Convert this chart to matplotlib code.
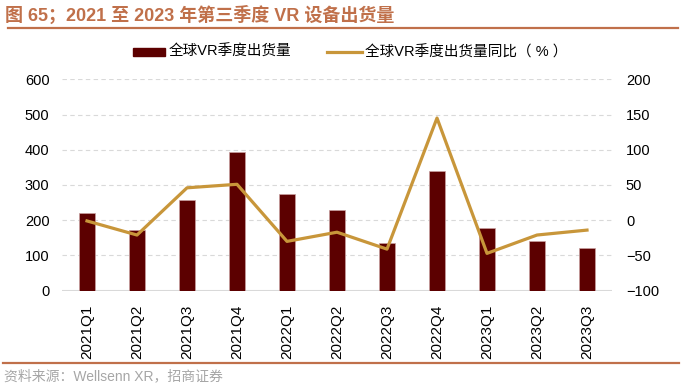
import matplotlib
matplotlib.use('Agg')
import matplotlib.pyplot as plt
from matplotlib.patches import Rectangle
from matplotlib.lines import Line2D

plt.rcParams['font.family'] = ['Liberation Sans', 'Noto Sans CJK SC', 'DejaVu Sans']

quarters = ['2021Q1', '2021Q2', '2021Q3', '2021Q4', '2022Q1', '2022Q2',
            '2022Q3', '2022Q4', '2023Q1', '2023Q2', '2023Q3']
shipments = [220, 173, 257, 393, 274, 228, 136, 339, 179, 141, 122]
yoy = [-1, -21, 46, 51, -30, -17, -41, 145, -47, -21, -14]

bar_col = '#5C0000'
line_col = '#C8963A'
title_col = '#C0704A'

W, H = 682, 386
fig = plt.figure(figsize=(W / 100, H / 100), dpi=100)
ax = fig.add_axes([62 / W, 1 - 290.7 / H, 550 / W, 211.4 / H])
ax2 = ax.twinx()

x = list(range(len(quarters)))
ax.bar(x, shipments, width=0.31, color=bar_col, edgecolor='#C9A0A0', linewidth=0.5, zorder=3)
ax2.plot(x, yoy, color=line_col, linewidth=2.3, zorder=4)

ax.set_xlim(-0.5, len(quarters) - 0.5)
ax.set_ylim(0, 600)
ax.set_yticks(range(0, 601, 100))
ax2.set_ylim(-100, 200)
ax2.set_yticks(range(-100, 201, 50))

for y in range(100, 601, 100):
    ax.axhline(y, color='#D9D9D9', linewidth=0.8, linestyle=(0, (4, 3)), zorder=1)
ax.axhline(0, color='#D9D9D9', linewidth=2.2, zorder=2)

for a in (ax, ax2):
    for s in a.spines.values():
        s.set_visible(False)
    a.tick_params(length=0, labelsize=10.5, colors='black')
ax.tick_params(axis='y', pad=9)
ax2.tick_params(axis='y', pad=10)
ax.set_xticks(x)
ax.set_xticklabels(quarters, rotation=90)
ax.tick_params(axis='x', pad=10, labelsize=11)

# title
fig.text(5 / W, 1 - 15 / H, '图 65；2021 至 2023 年第三季度 VR 设备出货量',
         fontsize=13, fontweight='bold', color=title_col, va='center', ha='left')
fig.add_artist(Line2D([8 / W, 678 / W], [1 - 28 / H, 1 - 28 / H], color=title_col, linewidth=1.6))

# legend
fig.add_artist(Rectangle((133 / W, 1 - 56 / H), 32 / W, 8 / H, color=bar_col, transform=fig.transFigure))
fig.text(169 / W, 1 - 52 / H, '全球VR季度出货量', fontsize=10.5, va='center', ha='left')
fig.add_artist(Line2D([327 / W, 362 / W], [1 - 52 / H, 1 - 52 / H], color=line_col, linewidth=2.3))
fig.text(365 / W, 1 - 52 / H, '全球VR季度出货量同比（ % ）', fontsize=10.5, va='center', ha='left')

# footer
fig.add_artist(Line2D([3 / W, 679 / W], [1 - 363 / H, 1 - 363 / H], color=title_col, linewidth=1.6))
fig.text(4 / W, 1 - 376 / H, '资料来源：Wellsenn XR，招商证券', fontsize=10, color='#A6A6A6',
         va='center', ha='left')

fig.savefig('out.png', dpi=100)
